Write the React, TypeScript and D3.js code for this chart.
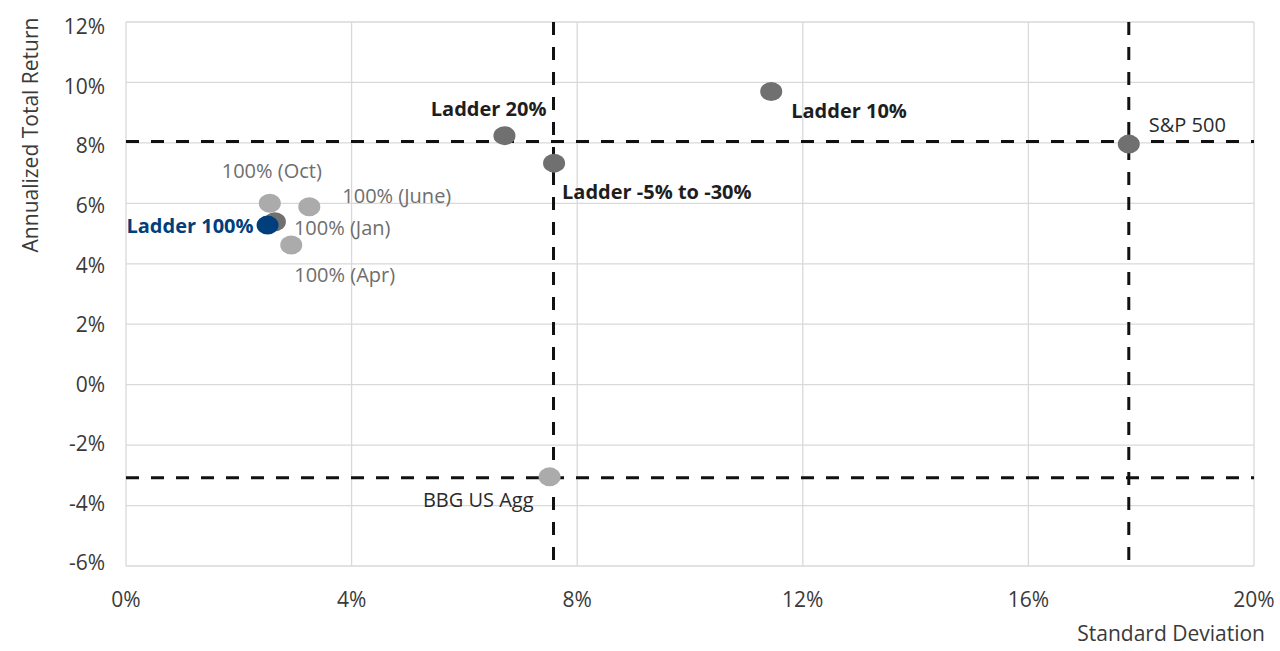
import React from 'react'
import * as d3 from 'd3'

document.body.style.margin = '0'

const width = 1280
const height = 651
const margin = { top: 22, right: 26, bottom: 85, left: 126 }

// point data (x = standard deviation %, y = annualized total return %)
const names = [
  'Ladder 20%',
  'Ladder 10%',
  'Ladder -5% to -30%',
  'S&P 500',
  'BBG US Agg',
  '100% (Oct)',
  '100% (June)',
  '100% (Apr)',
  '100% (Jan)',
  'Ladder 100%',
]
const stdDev = [6.71, 11.44, 7.59, 17.78, 7.51, 2.55, 3.25, 2.93, 2.64, 2.51]
const returns = [8.24, 9.7, 7.33, 7.96, -3.05, 6.0, 5.89, 4.62, 5.39, 5.28]
const kinds = ['dark', 'dark', 'dark', 'dark', 'light', 'light', 'light', 'light', 'dark', 'blue']

// dashed reference lines
const refX = [7.58, 17.78]
const refY = [8.05, -3.08]

const xTicks = [0, 4, 8, 12, 16, 20]
const yTicks = [12, 10, 8, 6, 4, 2, 0, -2, -4, -6]

const fill: Record<string, string> = { dark: '#707070', light: '#ababab', blue: '#003f7c' }

// label placement: dx, dy from point, anchor, style
const labelPos: Record<string, { dx: number; dy: number; anchor: string; style: string }> = {
  'Ladder 20%': { dx: 42, dy: -20, anchor: 'end', style: 'bold' },
  'Ladder 10%': { dx: 20, dy: 26, anchor: 'start', style: 'bold' },
  'Ladder -5% to -30%': { dx: 8, dy: 36, anchor: 'start', style: 'bold' },
  'S&P 500': { dx: 20, dy: -12, anchor: 'start', style: 'plain' },
  'BBG US Agg': { dx: -16, dy: 30, anchor: 'end', style: 'plain' },
  '100% (Oct)': { dx: 52, dy: -25, anchor: 'end', style: 'gray' },
  '100% (June)': { dx: 33, dy: -4, anchor: 'start', style: 'gray' },
  '100% (Apr)': { dx: 3, dy: 37, anchor: 'start', style: 'gray' },
  '100% (Jan)': { dx: 19, dy: 13, anchor: 'start', style: 'gray' },
  'Ladder 100%': { dx: -14, dy: 8, anchor: 'end', style: 'blue' },
}

const textFill: Record<string, string> = { bold: '#1e1e1e', plain: '#2a2a2a', gray: '#6e6e6e', blue: '#003f7c' }

const font = "'Open Sans', 'Noto Sans', sans-serif"

export default function App() {
  const x = d3.scaleLinear().domain([0, 20]).range([margin.left, width - margin.right])
  const y = d3.scaleLinear().domain([-6, 12]).range([height - margin.bottom, margin.top])
  // tick labels sit slightly compressed against the grid in the original
  const yLabel = d3.scaleLinear().domain([-6, 12]).range([563, 27])
  const fmt = (v: number) => `${v}%`

  const points = names.map((n, i) => ({ name: n, x: stdDev[i], y: returns[i], kind: kinds[i] }))

  return (
    <svg width={width} height={height} style={{ display: 'block', background: '#fff' }} fontFamily={font}>
      {/* grid */}
      <g stroke="#d9d9d9" strokeWidth={1.3}>
        {yTicks.map((t) => (
          <line key={'gy' + t} x1={x(0)} x2={x(20)} y1={y(t)} y2={y(t)} />
        ))}
        {xTicks.map((t) => (
          <line key={'gx' + t} x1={x(t)} x2={x(t)} y1={y(12)} y2={y(-6)} />
        ))}
      </g>

      {/* reference lines */}
      <g stroke="#111" strokeWidth={3} strokeDasharray="13,12">
        {refX.map((v) => (
          <line key={'rx' + v} x1={x(v)} x2={x(v)} y1={y(12)} y2={y(-6)} />
        ))}
        {refY.map((v) => (
          <line key={'ry' + v} x1={x(0)} x2={x(20)} y1={y(v)} y2={y(v)} />
        ))}
      </g>

      {/* y ticks */}
      <g fontSize={21} fill="#3a3a3a" textAnchor="end">
        {yTicks.map((t) => (
          <text key={'yt' + t} x={x(0) - 21} y={yLabel(t)} dy="0.35em">
            {fmt(t)}
          </text>
        ))}
      </g>
      {/* x ticks */}
      <g fontSize={21} fill="#3a3a3a" textAnchor="middle">
        {xTicks.map((t) => (
          <text key={'xt' + t} x={x(t)} y={y(-6) + 41}>
            {fmt(t)}
          </text>
        ))}
      </g>

      <text transform="translate(38,135) rotate(-90)" textAnchor="middle" fontSize={21} fill="#3a3a3a">
        Annualized Total Return
      </text>
      <text x={1265} y={641} textAnchor="end" fontSize={21} fill="#3a3a3a">
        Standard Deviation
      </text>

      {/* points */}
      {points.map((p) => (
        <ellipse key={'p' + p.name} cx={x(p.x)} cy={y(p.y)} rx={11} ry={9.5} fill={fill[p.kind]} />
      ))}

      {/* labels */}
      {points.map((p) => {
        const lp = labelPos[p.name]
        return (
          <text
            key={'l' + p.name}
            x={x(p.x) + lp.dx}
            y={y(p.y) + lp.dy}
            textAnchor={lp.anchor}
            fontSize={20}
            fontWeight={lp.style === 'bold' || lp.style === 'blue' ? 700 : 400}
            fill={textFill[lp.style]}
          >
            {p.name}
          </text>
        )
      })}
    </svg>
  )
}
